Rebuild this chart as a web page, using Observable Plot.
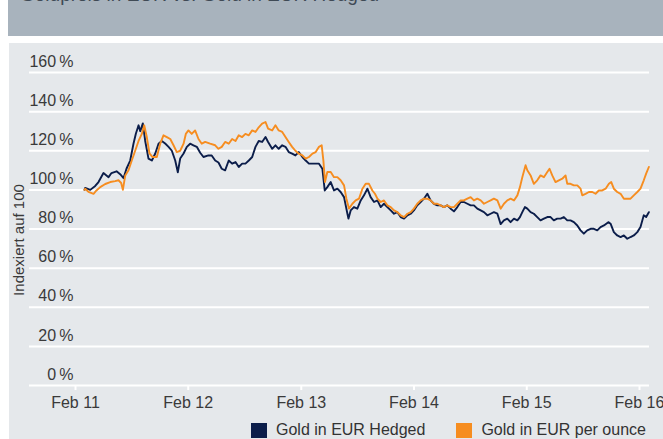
<!DOCTYPE html>
<html>
<head>
<meta charset="utf-8">
<script src="https://cdn.jsdelivr.net/npm/d3@7"></script>
<script src="https://cdn.jsdelivr.net/npm/@observablehq/plot@0.6"></script>
<style>
  html, body { margin: 0; padding: 0; background: #ffffff; width: 663px; height: 439px; overflow: hidden; }
  body { position: relative; font-family: "Liberation Sans", Arial, sans-serif; }
  #header { position: absolute; left: 8px; top: 0; width: 655px; height: 36px; background: #a8b3bd; overflow: hidden; }
  #title { position: absolute; left: 12px; top: -16px; font-size: 19px; color: #3f4a55; white-space: nowrap; }
  #panel { position: absolute; left: 9px; top: 43px; width: 654px; height: 396px; background: #e5e8eb; }
  #chart { position: absolute; left: 1px; top: 0; }
  #legend { position: absolute; top: 378px; left: 242px; display: flex; align-items: center; font-size: 16px; color: #333; white-space: nowrap; }
  .sw { display: inline-block; width: 16px; height: 15px; margin-right: 9px; }
  .item { display: flex; align-items: center; margin-right: 31px; }
</style>
</head>
<body>
<div id="header"><div id="title">Goldpreis in EUR vs. Gold in EUR Hedged</div></div>
<div id="panel">
  <div id="chart"></div>
  <div id="legend"></div>
</div>
<script>
// Series names and colours
const seriesNames = ["Gold in EUR Hedged", "Gold in EUR per ounce"];
const seriesColors = ["#0b1d4a", "#f68d20"];

// Gold in EUR Hedged (decimal years, index values in %)
const hedgedYears = [
  2011.085,2011.091,2011.136,2011.180,2011.209,2011.253,2011.298,2011.324,2011.369,2011.401,
  2011.431,2011.457,2011.490,2011.519,2011.540,2011.564,2011.579,2011.602,2011.623,2011.652,
  2011.682,2011.712,2011.741,2011.770,2011.800,2011.830,2011.859,2011.889,2011.912,2011.933,
  2011.963,2011.992,2012.022,2012.051,2012.081,2012.111,2012.140,2012.184,2012.213,2012.244,
  2012.273,2012.302,2012.332,2012.364,2012.394,2012.424,2012.453,2012.483,2012.512,2012.542,
  2012.572,2012.601,2012.630,2012.660,2012.690,2012.713,2012.749,2012.778,2012.807,2012.838,
  2012.867,2012.896,2012.926,2012.955,2012.985,2013.015,2013.044,2013.073,2013.104,2013.133,
  2013.162,2013.192,2013.213,2013.236,2013.266,2013.295,2013.325,2013.354,2013.384,2013.414,
  2013.423,2013.443,2013.472,2013.502,2013.532,2013.561,2013.591,2013.620,2013.650,2013.680,
  2013.709,2013.738,2013.768,2013.798,2013.827,2013.857,2013.886,2013.916,2013.946,2013.975,
  2014.004,2014.034,2014.064,2014.093,2014.123,2014.152,2014.181,2014.212,2014.241,2014.270,
  2014.300,2014.330,2014.359,2014.389,2014.418,2014.447,2014.478,2014.507,2014.536,2014.566,
  2014.596,2014.625,2014.655,2014.684,2014.713,2014.744,2014.773,2014.802,2014.832,2014.861,
  2014.891,2014.921,2014.944,2014.965,2014.988,2015.010,2015.039,2015.068,2015.098,2015.127,
  2015.157,2015.187,2015.216,2015.245,2015.275,2015.305,2015.334,2015.364,2015.393,2015.423,
  2015.453,2015.482,2015.511,2015.541,2015.571,2015.600,2015.630,2015.659,2015.689,2015.728,
  2015.748,2015.777,2015.807,2015.837,2015.866,2015.896,2015.925,2015.954,2015.985,2016.014,
  2016.043,2016.064,2016.088
];
const hedgedValues = [
  100,101,100,102,104,108.6,106.5,108.6,109.5,108,
  106,110.8,115,123.6,128.7,133,130,134,125,116,
  115,118.6,123.6,125,123.7,122,120,115,109,116,
  118.6,122,123.6,122.8,122,119,116.8,117.6,117.6,115,
  114,110.8,110,115,113.4,114.2,111.7,113.4,113.4,115,
  116.8,122,125,124.5,127,124.5,121,122.8,121,122.8,
  122,119.3,118.5,117.6,119.3,116.8,115,113.4,113.4,113.4,
  113.4,110.8,99.7,101.4,104,99.7,100.6,98.9,96.3,87.8,
  85.3,89.5,91.2,90.4,94.6,97.2,100.6,96.3,93.8,94.6,
  91.2,92.9,91.2,89.5,87.8,88.6,86.1,85.3,87,87.8,
  89.5,92.1,93.8,95.5,98,94.6,92.9,92.1,92.1,91.2,
  92.1,90.4,89,91.2,93.8,93.8,92.9,92.1,92.1,90.4,
  89.5,88.6,87,87.8,88.6,87.8,82.5,84.4,85.3,83.5,
  85.3,84.4,86.1,88.6,91.2,90.4,88.6,87.8,86.1,84.4,
  85.3,86.1,86.1,84.4,85.3,85.3,86.1,84.4,84.4,83.5,
  81.8,79.3,77.6,79.3,80.1,80.1,79.3,81,81.8,83.5,
  82.7,78.4,76.7,75.9,76.7,75,75.9,76.7,78.4,81,
  87,86.1,88.6
];

// Gold in EUR per ounce (decimal years, index values in %)
const ounceYears = [
  2011.085,2011.091,2011.120,2011.165,2011.191,2011.224,2011.269,2011.313,2011.357,2011.386,
  2011.410,2011.425,2011.446,2011.475,2011.504,2011.534,2011.564,2011.593,2011.614,2011.637,
  2011.661,2011.688,2011.726,2011.756,2011.785,2011.815,2011.845,2011.874,2011.903,2011.933,
  2011.963,2011.983,2012.007,2012.036,2012.066,2012.096,2012.125,2012.155,2012.199,2012.244,
  2012.273,2012.302,2012.332,2012.364,2012.394,2012.424,2012.453,2012.483,2012.512,2012.542,
  2012.572,2012.601,2012.630,2012.660,2012.690,2012.713,2012.749,2012.778,2012.807,2012.838,
  2012.867,2012.896,2012.926,2012.955,2012.985,2013.015,2013.044,2013.073,2013.104,2013.133,
  2013.162,2013.186,2013.201,2013.215,2013.236,2013.266,2013.295,2013.325,2013.354,2013.384,
  2013.405,2013.428,2013.458,2013.487,2013.517,2013.547,2013.576,2013.605,2013.635,2013.658,
  2013.680,2013.709,2013.738,2013.768,2013.798,2013.827,2013.857,2013.886,2013.916,2013.946,
  2013.975,2014.004,2014.034,2014.064,2014.093,2014.123,2014.152,2014.181,2014.212,2014.241,
  2014.270,2014.300,2014.330,2014.359,2014.389,2014.418,2014.447,2014.478,2014.507,2014.536,
  2014.566,2014.596,2014.625,2014.655,2014.684,2014.713,2014.744,2014.773,2014.802,2014.832,
  2014.861,2014.891,2014.921,2014.944,2014.965,2014.994,2015.010,2015.039,2015.068,2015.098,
  2015.127,2015.157,2015.187,2015.207,2015.231,2015.260,2015.290,2015.320,2015.349,2015.364,
  2015.393,2015.423,2015.453,2015.482,2015.497,2015.526,2015.556,2015.586,2015.615,2015.644,
  2015.674,2015.704,2015.733,2015.754,2015.777,2015.807,2015.837,2015.866,2015.896,2015.925,
  2015.954,2015.985,2016.014,2016.043,2016.064,2016.088
];
const ounceValues = [
  100,100.6,99,98,99.7,101.4,103,104,104.5,104.9,
  103.5,100,107.4,110,115,120,125,128.6,133,127,
  118.6,116.8,116.8,123.6,127.9,127,126,122.8,119.3,120,
  123.6,128.6,130.4,128.6,130.4,126,123.6,124.5,123.6,122.8,
  121,122,124.5,123.6,126,125,127.9,127,128.6,127.9,
  130.4,129.6,132,133.9,134.7,131.3,130.4,133,130.4,129.6,
  127,124.5,122,120,118.5,117.6,116,116.8,118.5,119.3,
  122,122.8,115,104,109.1,109.1,106.5,106.5,104.9,102.3,
  95.5,90.4,92.9,94.6,95.5,100.6,103.1,103.1,99.7,98,
  95.5,93.8,94.6,92.1,91.2,89.5,88.6,87,86.1,87.8,
  88.6,90.4,92.9,94.6,95.5,95.5,94.6,92.9,92.9,92.1,
  91.2,92.1,91.2,91.2,92.9,94.6,94.6,95.5,96.3,94.6,
  95.5,94.6,92.9,93.8,94.6,95.5,94.6,90.4,92.9,94.6,
  95.5,94.6,97.2,101.4,106.5,112.6,110,107.4,103.1,104.9,
  107.4,106.5,109.1,110.8,107.4,104,104.9,105.7,107.4,103.1,
  103.1,102.3,102.3,100.6,97.2,98,98.9,98.9,98,99.7,
  99.7,100.6,103.1,104,100.6,98.9,98,95.5,95.5,95.5,
  97.2,98.9,100.6,104.9,108.3,111.7
];

// Axis ticks
const yTicks = [0, 20, 40, 60, 80, 100, 120, 140, 160];
const xTickYears = [2011, 2012, 2013, 2014, 2015, 2016];
const yLabel = "Indexiert auf 100";

// ---- build ----
const toDate = (y) => {
  const yr = Math.floor(y);
  return new Date(Date.UTC(yr, 0, 1) + (y - yr) * 365.25 * 864e5);
};
const rows = [];
hedgedYears.forEach((y, i) => rows.push({date: toDate(y), value: hedgedValues[i], series: seriesNames[0]}));
ounceYears.forEach((y, i) => rows.push({date: toDate(y), value: ounceValues[i], series: seriesNames[1]}));
const xTicks = xTickYears.map(y => new Date(Date.UTC(y, 1, 1)));

const W = 653, H = 380;
const chart = Plot.plot({
  width: W,
  height: H,
  marginLeft: 19,
  marginRight: 14,
  marginTop: 29,
  marginBottom: 38,
  style: {background: "transparent", fontFamily: "'Liberation Sans', Arial, sans-serif", fontSize: "16px", color: "#3a3a3a"},
  x: {type: "utc", domain: [xTicks[0], xTicks[xTicks.length - 1]], range: [74, 638]},
  y: {domain: [0, 160]},
  color: {domain: seriesNames, range: seriesColors},
  marks: [
    Plot.ruleY(yTicks, {stroke: "#ffffff", strokeWidth: 2}),
    Plot.axisY({ticks: yTicks, tickSize: 0, tickPadding: 0, anchor: "left", dx: 44, dy: -11, textAnchor: "end",
      tickFormat: d => d + "\u2009%", label: null, fill: "#3a3a3a", fontSize: 16}),
    Plot.axisX({ticks: xTicks, tickSize: 5, stroke: "#ffffff", strokeWidth: 2, tickPadding: 6, dx: -9,
      tickFormat: d3.utcFormat("%b %y"), label: null, fill: "#3a3a3a", fontSize: 16}),
    Plot.text([yLabel], {frameAnchor: "left", textAnchor: "middle", rotate: -90, dx: -10, dy: 11, fill: "#3a3a3a", fontSize: 15}),
    Plot.line(rows, {x: "date", y: "value", stroke: "series", z: "series", strokeWidth: 1.9, curve: "linear"})
  ]
});
document.getElementById("chart").appendChild(chart);

const legend = document.getElementById("legend");
seriesNames.forEach((n, i) => {
  const it = document.createElement("div");
  it.className = "item";
  const sw = document.createElement("span");
  sw.className = "sw";
  sw.style.background = seriesColors[i];
  it.appendChild(sw);
  it.appendChild(document.createTextNode(n));
  legend.appendChild(it);
});
</script>
</body>
</html>
